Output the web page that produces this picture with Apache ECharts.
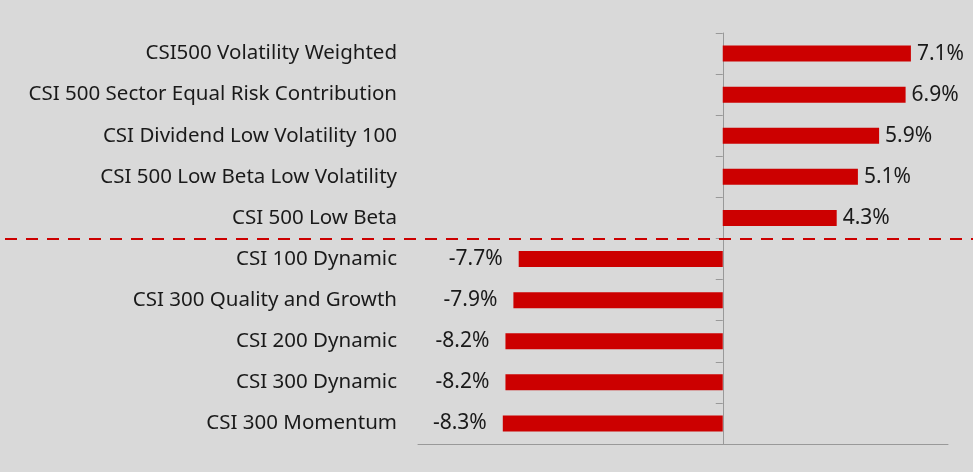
<!DOCTYPE html>
<html>
<head>
<meta charset="utf-8">
<script src="https://cdn.jsdelivr.net/npm/echarts@6/dist/echarts.min.js"></script>
<style>
  html, body { margin: 0; padding: 0; background: #d9d9d9; }
  #chart { width: 973px; height: 472px; }
</style>
</head>
<body>
<div id="chart"></div>
<script>
// index names, top to bottom
var categories = [
  'CSI500 Volatility Weighted',
  'CSI 500 Sector Equal Risk Contribution',
  'CSI Dividend Low Volatility 100',
  'CSI 500 Low Beta Low Volatility',
  'CSI 500 Low Beta',
  'CSI 100 Dynamic',
  'CSI 300 Quality and Growth',
  'CSI 200 Dynamic',
  'CSI 300 Dynamic',
  'CSI 300 Momentum'
]
// returns in %
var values = [7.1, 6.9, 5.9, 5.1, 4.3, -7.7, -7.9, -8.2, -8.2, -8.3]
// the dashed separator sits after this many categories
var splitAfter = 5

var font = '"Noto Sans", sans-serif'
var red = '#cc0000'
var grey = '#999999'

var chart = echarts.init(document.getElementById('chart'))
var option = {
  backgroundColor: '#d9d9d9',
  animation: false,
  grid: { left: 418, right: 25, top: 33, bottom: 28 },
  xAxis: {
    type: 'value',
    min: -11.5,
    max: 8.5,
    axisLabel: { show: false },
    axisTick: { show: false },
    splitLine: { show: false },
    axisLine: { show: true, lineStyle: { color: grey, width: 1 } }
  },
  yAxis: [
    {
      // the line at zero with its ticks
      type: 'category',
      data: categories,
      inverse: true,
      axisLine: { onZero: true, lineStyle: { color: grey, width: 1 } },
      axisTick: { show: true, length: 7, alignWithLabel: false, lineStyle: { color: grey } },
      axisLabel: { show: false }
    },
    {
      // labels on the left
      type: 'category',
      data: categories,
      inverse: true,
      position: 'left',
      axisLine: { show: false },
      axisTick: { show: false },
      axisLabel: { margin: 21, color: '#1a1a1a', fontSize: 20.5, fontFamily: font }
    }
  ],
  series: [
    {
      type: 'bar',
      barWidth: 16,
      itemStyle: { color: red },
      label: {
        show: true,
        color: '#1a1a1a',
        fontSize: 21,
        fontFamily: font,
        formatter: function (p) { return p.value.toFixed(1) + '%' }
      },
      // put each label on the outer end of its bar
      data: values.map(function (v) {
        return {
          value: v,
          label: { position: v >= 0 ? 'right' : 'left', distance: v >= 0 ? 6 : 16 }
        }
      })
    }
  ]
}
chart.setOption(option)

// dashed red separator across the whole picture
var y1 = chart.convertToPixel({ yAxisIndex: 0 }, splitAfter - 1)
var y2 = chart.convertToPixel({ yAxisIndex: 0 }, splitAfter)
var ySep = Math.round((y1 + y2) / 2)
chart.setOption({
  graphic: [{
    type: 'line',
    shape: { x1: 5, y1: ySep, x2: 973, y2: ySep },
    style: { stroke: red, lineWidth: 2, lineDash: [12, 9] },
    z: 10
  }]
})
</script>
</body>
</html>
